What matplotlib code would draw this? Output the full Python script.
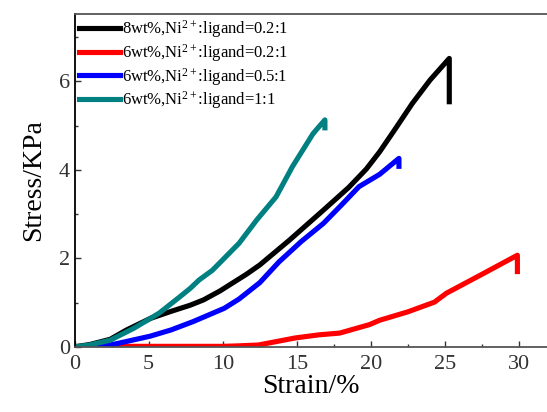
import matplotlib
matplotlib.use("Agg")
import matplotlib.pyplot as plt
from matplotlib.ticker import MultipleLocator

plt.rcParams['font.family'] = 'Liberation Serif'
plt.rcParams['mathtext.fontset'] = 'custom'
plt.rcParams['mathtext.rm'] = 'Liberation Serif'
plt.rcParams['mathtext.it'] = 'Liberation Serif:italic'

# strain (%) / stress (KPa)
x_8wt_02 = [0, 1, 2.4, 3.5, 5.1, 6.5, 7.8, 8.7, 9.8, 11.6, 12.5, 14.5, 16.8, 18.5, 19.7, 20.6, 21.7, 22.8, 24.0, 25.3, 25.3]
y_8wt_02 = [0, 0.05, 0.17, 0.38, 0.64, 0.80, 0.94, 1.06, 1.26, 1.64, 1.85, 2.41, 3.09, 3.6, 4.02, 4.41, 4.95, 5.5, 6.03, 6.52, 5.54]

x_6wt_02 = [0, 2, 5, 8, 10, 11, 12.4, 13.5, 14.9, 16.5, 17.9, 19.9, 20.6, 22.5, 24.3, 25.1, 27.4, 29.9, 29.9]
y_6wt_02 = [0, 0.01, 0.01, 0.01, 0.01, 0.02, 0.04, 0.11, 0.2, 0.27, 0.31, 0.5, 0.6, 0.79, 1.01, 1.21, 1.62, 2.07, 1.7]

x_6wt_05 = [0, 1, 2.4, 3.5, 5.1, 6.5, 8.0, 10.1, 11.1, 12.5, 13.8, 15.3, 16.8, 18.0, 19.2, 20.6, 21.9, 21.9]
y_6wt_05 = [0, 0.01, 0.04, 0.12, 0.24, 0.38, 0.57, 0.87, 1.08, 1.45, 1.92, 2.38, 2.79, 3.2, 3.62, 3.9, 4.26, 4.08]

x_6wt_1 = [0, 1, 2.4, 4, 5.7, 7.1, 7.8, 8.4, 9.3, 11.1, 12.3, 13.6, 14.7, 16.1, 16.9, 16.9]
y_6wt_1 = [0, 0.04, 0.15, 0.42, 0.76, 1.13, 1.32, 1.51, 1.73, 2.34, 2.87, 3.39, 4.07, 4.82, 5.13, 4.95]

labels = ['8wt%,Ni$^{2+}$:ligand=0.2:1',
          '6wt%,Ni$^{2+}$:ligand=0.2:1',
          '6wt%,Ni$^{2+}$:ligand=0.5:1',
          '6wt%,Ni$^{2+}$:ligand=1:1']
colors = ['black', '#ff0000', '#0000ff', '#008080']

fig = plt.figure(figsize=(5.47, 4.12), dpi=100)
ax = fig.add_axes([0.1366, 0.1583, 0.8634, 0.8084])

series = [(x_8wt_02, y_8wt_02), (x_6wt_02, y_6wt_02), (x_6wt_05, y_6wt_05), (x_6wt_1, y_6wt_1)]
for (xs, ys), lab, c in zip(series, labels, colors):
    ax.plot(xs, ys, color=c, lw=3.7, label=lab, solid_joinstyle='round')

ax.set_xlim(0, 31.9)
ax.set_ylim(0, 7.53)
ax.xaxis.set_major_locator(MultipleLocator(5))
ax.xaxis.set_minor_locator(MultipleLocator(2.5))
ax.yaxis.set_major_locator(MultipleLocator(2))
ax.yaxis.set_minor_locator(MultipleLocator(1))
ax.tick_params(which='both', direction='in', labelsize=16, colors='#333333')
ax.tick_params(which='major', length=4.5, width=1)
ax.tick_params(which='minor', length=2.5, width=1)
ax.tick_params(axis='x', pad=6)

ax.spines['right'].set_visible(False)
ax.spines['left'].set_color('black')
ax.spines['bottom'].set_color('#555555')
ax.spines['top'].set_color('#555555')
for s in ax.spines.values():
    s.set_linewidth(1.3)

ax.set_xlabel('Strain/%', fontsize=20, labelpad=0)
ax.set_ylabel('Stress/KPa', fontsize=20, labelpad=9)

ax.legend(loc='upper left', frameon=False, fontsize=12, handlelength=2.45,
          handletextpad=0.15, labelspacing=0.12, borderaxespad=0.1, borderpad=0.15)

fig.savefig('out.png', dpi=100)
